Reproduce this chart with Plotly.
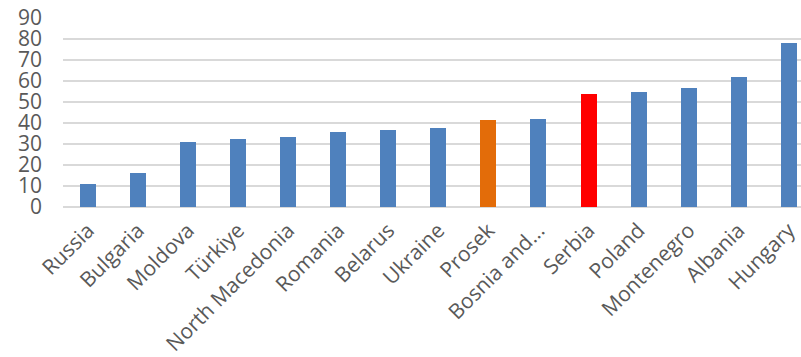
import plotly.graph_objects as go

countries = ["Russia", "Bulgaria", "Moldova", "Türkiye", "North Macedonia", "Romania",
             "Belarus", "Ukraine", "Prosek", "Bosnia and...", "Serbia", "Poland",
             "Montenegro", "Albania", "Hungary"]
values = [11.0, 16.3, 31.1, 32.2, 33.4, 35.9, 36.7, 37.5, 41.4, 41.9, 53.7, 54.6, 56.5, 61.9, 77.9]
colors = ["#4F81BD"] * 8 + ["#E36C09", "#4F81BD", "#FF0000"] + ["#4F81BD"] * 4
y_ticks = [0, 10, 20, 30, 40, 50, 60, 70, 80, 90]

fig = go.Figure(go.Bar(
    x=list(range(len(countries))), y=values,
    marker=dict(color=colors, line=dict(width=0)),
    width=0.32,
))

font_col = "#595959"
fig.update_layout(
    width=801, height=357,
    margin=dict(l=63, r=0, t=18, b=150),
    paper_bgcolor="white", plot_bgcolor="white",
    showlegend=False,
    font=dict(family="Open Sans", color=font_col, size=20),
    bargap=0,
)
fig.update_xaxes(
    tickmode="array", tickvals=list(range(len(countries))), ticktext=countries,
    tickangle=-45, range=[-0.5, 14.245], showgrid=False, showline=False, ticks="",
    tickfont=dict(size=21, color=font_col), ticklabelstandoff=6,
)
fig.update_yaxes(
    range=[0, 90], tickvals=y_ticks, showgrid=True, gridcolor="#D9D9D9", gridwidth=1.5,
    zeroline=True, zerolinecolor="#D9D9D9", zerolinewidth=1.5, showline=False,
    tickfont=dict(size=21, color=font_col), ticklabelstandoff=20,
)
fig.write_html("out.html")
